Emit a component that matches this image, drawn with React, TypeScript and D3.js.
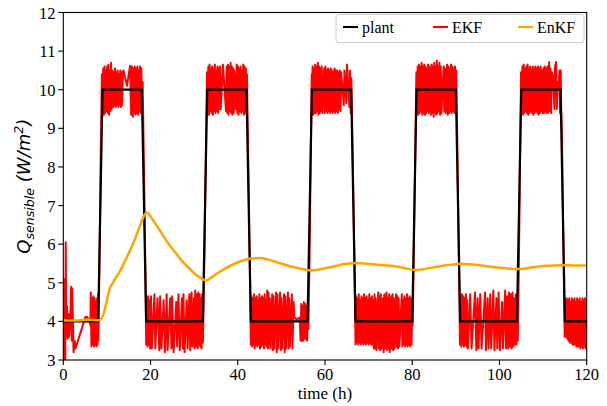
import React from 'react';
import * as d3 from 'd3';

type P = [number, number];

// ---------- data ----------
const xTicks = [0, 20, 40, 60, 80, 100, 120];
const yTicks = [3, 4, 5, 6, 7, 8, 9, 10, 11, 12];

const plantTime = [0, 8, 9, 18, 19, 32, 33, 42, 43, 56, 57, 66, 67, 80, 81, 90, 91, 104, 105, 114, 115, 120];
const plantQ = [4, 4, 10, 10, 4, 4, 10, 10, 4, 4, 10, 10, 4, 4, 10, 10, 4, 4, 10, 10, 4, 4];

const enkf: P[] = [
  [0, 4.02], [2, 4.02], [4, 4.03], [6, 4.04], [8, 4.03], [8.5, 4.04], [9, 4.12], [9.5, 4.3], [10, 4.55],
  [10.7, 4.86], [11.5, 5.02], [12, 5.12], [13, 5.3], [14, 5.53], [15, 5.77], [16, 6.02], [17, 6.3],
  [18, 6.6], [18.6, 6.76], [19.1, 6.82], [19.6, 6.78], [20, 6.72], [21, 6.55], [22, 6.38], [23, 6.2],
  [24, 6.03], [25, 5.88], [26, 5.74], [27, 5.6], [28, 5.47], [29, 5.36], [30, 5.25], [31, 5.16],
  [32, 5.09], [32.8, 5.06], [33.5, 5.1], [35, 5.22], [37, 5.36], [39, 5.48], [41, 5.57], [43, 5.63],
  [45, 5.64], [47, 5.6], [49, 5.53], [51, 5.46], [53, 5.4], [55, 5.35], [57, 5.32], [59, 5.35],
  [61, 5.4], [63, 5.45], [65, 5.49], [67, 5.51], [69, 5.5], [71, 5.48], [73, 5.46], [75, 5.44],
  [77, 5.41], [79, 5.36], [81, 5.33], [83, 5.36], [85, 5.4], [87, 5.44], [89, 5.47], [91, 5.49],
  [93, 5.48], [95, 5.46], [97, 5.43], [99, 5.4], [101, 5.38], [103, 5.36], [105, 5.36], [107, 5.39],
  [109, 5.42], [111, 5.44], [113, 5.45], [115, 5.46], [117, 5.45], [120, 5.45],
];

const ekfStart: P[] = [
  [0, 3.0], [0.1, 5.1], [0.2, 3.2], [0.35, 4.4], [0.45, 3.0], [0.55, 6.05], [0.7, 3.6], [0.85, 4.4],
  [1.0, 3.55], [1.15, 4.2], [1.3, 3.6], [1.55, 3.9], [1.8, 4.9], [1.95, 3.5], [2.05, 4.85], [2.35, 3.2],
  [2.6, 3.5], [2.8, 3.3], [3.5, 3.55], [4.2, 3.8], [5.0, 4.1], [5.4, 4.12], [5.9, 4.05], [6.2, 3.9],
  [6.3, 4.75], [6.45, 3.35], [6.6, 4.6], [6.75, 3.4], [6.9, 4.65], [7.05, 3.35], [7.2, 4.6], [7.35, 3.4],
  [7.5, 4.5], [7.6, 3.35], [7.75, 4.6], [7.85, 3.4], [7.95, 4.7], [8.05, 3.5], [8.35, 6.0], [8.6, 8.5],
];

const ekfCycle1: P[] = [
  [8.85, 10.4], [9.0, 9.4], [9.15, 10.55], [9.3, 9.35], [9.45, 10.6], [9.6, 9.4], [9.75, 10.5], [9.9, 9.45],
  [10.05, 10.6], [10.2, 9.4], [10.35, 10.65], [10.5, 9.35], [10.65, 10.5], [10.8, 9.45], [10.95, 10.7],
  [11.1, 9.5], [11.25, 10.5], [11.4, 9.55], [11.55, 10.45], [11.7, 9.6], [11.85, 10.55], [12.0, 9.55],
  [12.15, 10.45], [12.3, 9.6], [12.45, 10.5], [12.6, 9.55], [12.75, 10.4], [12.9, 9.6], [13.05, 10.5],
  [13.2, 9.55], [13.35, 10.45], [13.5, 9.6], [13.65, 10.4], [13.8, 10.5], [14.6, 10.1], [15.3, 10.62],
  [15.55, 9.35], [15.75, 10.6], [15.95, 9.3], [16.1, 10.55], [16.25, 9.4], [16.4, 10.6], [16.55, 9.35],
  [16.7, 10.55], [16.85, 9.4], [17.0, 10.6], [17.15, 9.35], [17.3, 10.5], [17.45, 9.45], [17.6, 10.6],
  [17.75, 9.4], [17.9, 10.55], [18.05, 9.4], [18.2, 10.2], [18.55, 7.5], [18.9, 4.7],
  [19.0, 3.4], [19.15, 4.6], [19.3, 3.35], [19.45, 4.65], [19.6, 3.4], [19.75, 4.55], [19.9, 3.3],
  [20.1, 4.65], [20.3, 3.3], [20.9, 4.7], [21.1, 3.3], [21.6, 4.6], [22.0, 3.25], [22.2, 4.65],
  [22.5, 3.3], [23.0, 4.55], [23.3, 3.2], [23.7, 4.7], [23.9, 3.25], [24.5, 4.6], [24.8, 3.3],
  [24.95, 4.65], [25.3, 3.2], [25.9, 4.5], [26.1, 3.35], [26.4, 4.7], [26.7, 3.25], [27.2, 4.6],
  [27.4, 3.3], [27.55, 4.7], [27.8, 3.2], [28.3, 4.55], [28.5, 3.3], [28.9, 4.7], [29.1, 3.25],
  [29.4, 4.75], [29.6, 3.35], [29.95, 4.6], [30.1, 3.3], [30.25, 4.8], [30.45, 3.35], [30.6, 4.7],
  [30.8, 3.3], [30.95, 4.75], [31.1, 3.4], [31.25, 4.7], [31.4, 3.35], [31.55, 4.6], [31.7, 3.3],
  [31.85, 4.7], [32.0, 3.45], [32.15, 4.3], [32.4, 6.0], [32.7, 8.5],
];

const ekfCycle2: P[] = [
  [32.95, 10.45], [33.1, 9.4], [33.25, 10.6], [33.4, 9.35], [33.55, 10.65], [33.7, 9.45], [33.85, 10.55],
  [34.0, 9.4], [34.15, 10.6], [34.3, 9.35], [34.45, 10.55], [34.6, 9.45], [34.75, 10.65], [34.9, 9.4],
  [35.05, 10.5], [35.2, 9.45], [35.35, 10.6], [35.5, 9.4], [35.65, 10.55], [35.8, 9.5], [35.95, 10.6],
  [36.1, 9.5], [36.6, 10.65], [37.3, 9.45], [37.45, 10.6], [37.6, 9.4], [37.75, 10.65], [37.9, 9.35],
  [38.05, 10.6], [38.2, 9.45], [38.35, 10.7], [38.5, 9.4], [38.65, 10.6], [38.8, 9.35], [38.95, 10.55],
  [39.1, 9.4], [39.2, 10.5], [39.6, 9.5], [39.75, 10.65], [39.9, 9.4], [40.05, 10.6], [40.2, 9.35],
  [40.35, 10.55], [40.5, 9.45], [40.65, 10.6], [40.8, 9.4], [40.95, 10.5], [41.1, 9.45], [41.25, 10.65],
  [41.4, 9.35], [41.55, 10.6], [41.7, 9.4], [41.85, 10.55], [42.0, 9.45], [42.1, 10.4], [42.5, 7.5],
  [42.85, 4.8],
  [43.0, 3.4], [43.15, 4.65], [43.3, 3.35], [43.45, 4.6], [43.6, 3.4], [43.75, 4.7], [43.9, 3.3],
  [44.05, 4.6], [44.2, 3.4], [44.35, 4.65], [44.5, 3.35], [44.65, 4.55], [44.8, 3.4], [44.95, 4.7],
  [45.1, 3.3], [45.25, 4.6], [45.4, 3.35], [45.55, 4.65], [45.7, 3.4], [45.85, 4.6], [46.0, 3.3],
  [46.15, 4.7], [46.3, 3.4], [46.45, 4.55], [46.6, 3.35], [46.75, 4.8], [46.9, 3.3], [47.05, 4.75],
  [47.2, 3.4], [47.35, 4.6], [47.5, 3.3], [47.9, 4.7], [48.05, 3.25], [48.2, 4.65], [48.35, 3.3],
  [48.8, 4.75], [48.95, 3.2], [49.1, 4.7], [49.25, 3.3], [49.7, 4.75], [49.85, 3.25], [50.0, 4.6],
  [50.15, 3.3], [50.6, 4.7], [50.75, 3.2], [50.9, 4.65], [51.05, 3.3], [51.5, 4.75], [51.65, 3.3],
  [51.8, 4.6], [51.95, 3.35], [52.4, 4.7], [52.55, 3.3], [52.8, 4.5], [53.0, 4.1], [53.5, 4.05],
  [54.2, 4.1], [54.4, 3.5], [54.55, 4.45], [54.7, 3.5], [54.85, 4.4], [55.0, 3.5], [55.15, 4.5],
  [55.3, 3.55], [55.45, 4.45], [55.6, 3.55], [55.75, 4.4], [55.9, 3.5], [56.05, 4.5], [56.2, 3.8],
  [56.5, 6.0], [56.75, 8.5],
];

const ekfCycle3: P[] = [
  [56.95, 10.4], [57.0, 9.4], [57.15, 10.6], [57.3, 9.35], [57.45, 10.55], [57.6, 9.4], [57.75, 10.65],
  [57.9, 9.4], [58.05, 10.6], [58.2, 9.45], [58.35, 10.7], [58.5, 9.35], [58.65, 10.6], [58.8, 9.4],
  [58.95, 10.55], [59.1, 9.45], [59.25, 10.6], [59.4, 9.4], [59.8, 10.55], [59.95, 9.4], [60.1, 10.6],
  [60.25, 9.45], [60.4, 10.5], [60.55, 9.4], [60.7, 10.55], [60.85, 9.45], [61.0, 10.5], [61.15, 9.4],
  [61.3, 10.55], [61.45, 9.45], [61.6, 10.5], [61.75, 9.4], [61.9, 10.45], [62.05, 9.45], [62.2, 10.55],
  [62.35, 9.4], [62.5, 10.5], [62.65, 9.45], [62.8, 10.5], [62.95, 9.4], [63.1, 10.45], [63.25, 9.5],
  [63.4, 10.5], [63.55, 9.45], [63.7, 10.45], [64.3, 9.6], [64.45, 10.5], [64.9, 9.65], [65.05, 10.65],
  [65.6, 9.55], [65.75, 10.5], [65.9, 9.4], [66.05, 10.3], [66.4, 8.0], [66.75, 5.5],
  [67.0, 3.4], [67.15, 4.65], [67.3, 3.45], [67.45, 4.6], [67.6, 3.4], [67.75, 4.7], [67.9, 3.45],
  [68.05, 4.55], [68.2, 3.4], [68.35, 4.65], [68.5, 3.45], [68.65, 4.6], [68.8, 3.4], [68.95, 4.7],
  [69.1, 3.45], [69.25, 4.6], [69.4, 3.4], [69.55, 4.65], [69.7, 3.45], [69.85, 4.55], [70.0, 3.4],
  [70.15, 4.7], [70.3, 3.45], [70.45, 4.6], [70.6, 3.4], [70.75, 4.65], [70.9, 3.4], [71.05, 4.55],
  [71.2, 3.3], [71.35, 4.7], [71.5, 3.3], [71.65, 4.6], [71.8, 3.25], [72.2, 4.75], [72.35, 3.3],
  [72.5, 4.65], [72.65, 3.25], [72.8, 4.7], [72.95, 3.3], [73.3, 4.6], [73.45, 3.2], [73.6, 4.7],
  [73.75, 3.3], [74.1, 4.75], [74.25, 3.25], [74.4, 4.6], [74.55, 3.3], [74.7, 4.7], [74.85, 3.2],
  [75.2, 4.65], [75.35, 3.3], [75.5, 4.7], [75.65, 3.25], [75.8, 4.6], [75.95, 3.3], [76.3, 4.7],
  [76.45, 3.35], [76.6, 4.65], [76.75, 3.3], [76.9, 4.6], [77.05, 3.35], [77.6, 4.7], [77.75, 3.35],
  [77.9, 4.55], [78.05, 3.4], [78.2, 4.65], [78.35, 3.35], [78.5, 4.6], [78.65, 3.4], [78.8, 4.7],
  [78.95, 3.35], [79.1, 4.6], [79.25, 3.4], [79.4, 4.65], [79.55, 3.35], [79.7, 4.6], [79.85, 3.4],
  [80.0, 4.6], [80.1, 3.9], [80.4, 6.0], [80.7, 8.5],
];

const ekfCycle4: P[] = [
  [80.95, 10.45], [81.1, 9.4], [81.25, 10.6], [81.4, 9.35], [81.55, 10.65], [81.7, 9.4], [81.85, 10.6],
  [82.0, 9.45], [82.15, 10.7], [82.3, 9.35], [82.45, 10.6], [82.6, 9.4], [82.75, 10.65], [82.9, 9.35],
  [83.05, 10.6], [83.2, 9.4], [83.35, 10.55], [83.5, 9.45], [83.65, 10.65], [83.8, 9.4], [83.95, 10.6],
  [84.3, 9.35], [84.45, 10.65], [84.6, 9.4], [84.75, 10.6], [84.9, 9.3], [85.05, 10.7], [85.2, 9.4],
  [85.35, 10.6], [85.5, 9.35], [85.65, 10.75], [85.8, 9.4], [85.95, 10.6], [86.1, 9.45], [86.25, 10.7],
  [86.4, 9.35], [86.55, 10.6], [86.7, 9.4], [87.2, 10.6], [87.35, 9.45], [87.5, 10.55], [87.65, 9.4],
  [88.0, 10.65], [88.15, 9.35], [88.3, 10.6], [88.45, 9.4], [88.6, 10.55], [88.75, 9.45], [88.9, 10.65],
  [89.05, 9.4], [89.2, 10.6], [89.35, 9.45], [89.5, 10.55], [89.65, 9.4], [89.8, 10.6], [89.95, 9.45],
  [90.1, 10.5], [90.35, 8.5], [90.7, 5.5],
  [90.95, 3.4], [91.1, 4.6], [91.25, 3.35], [91.4, 4.7], [91.55, 3.4], [91.7, 4.65], [91.85, 3.35],
  [92.0, 4.6], [92.15, 3.4], [92.3, 4.7], [92.45, 3.35], [92.6, 4.55], [92.75, 3.3], [93.3, 4.7],
  [93.6, 3.3], [94.4, 4.75], [94.7, 3.25], [95.0, 4.6], [95.2, 3.3], [95.6, 4.7], [95.9, 3.3],
  [96.7, 4.75], [96.9, 3.25], [97.3, 4.6], [97.5, 3.3], [97.9, 4.7], [98.1, 3.3], [98.6, 4.8],
  [98.85, 3.25], [99.3, 4.6], [99.5, 3.3], [99.8, 4.75], [100.1, 3.25], [100.6, 4.5], [100.8, 3.3],
  [101.3, 4.8], [101.5, 3.3], [101.8, 4.65], [102.0, 3.3], [102.2, 4.75], [102.4, 3.35], [102.6, 4.7],
  [102.8, 3.3], [103.0, 4.75], [103.2, 3.35], [103.4, 4.6], [103.55, 3.4], [103.75, 4.7], [103.9, 3.4],
  [104.05, 4.6], [104.2, 3.5], [104.3, 4.2], [104.5, 6.0], [104.75, 8.5],
];

const ekfCycle5: P[] = [
  [104.95, 10.45], [105.1, 9.4], [105.25, 10.6], [105.4, 9.35], [105.55, 10.65], [105.7, 9.4],
  [105.85, 10.55], [106.0, 9.45], [106.15, 10.6], [106.3, 9.4], [106.45, 10.65], [106.6, 9.35],
  [106.75, 10.55], [106.9, 9.4], [107.05, 10.6], [107.2, 9.45], [107.35, 10.5], [107.5, 9.4],
  [107.65, 10.6], [107.8, 9.35], [107.95, 10.55], [108.1, 9.4], [108.25, 10.6], [108.4, 9.45],
  [108.55, 10.55], [108.7, 9.4], [108.85, 10.6], [109.0, 9.35], [109.15, 10.55], [109.3, 9.4],
  [109.45, 10.6], [109.6, 9.45], [109.75, 10.5], [109.9, 9.4], [110.05, 10.55], [110.2, 9.4],
  [110.35, 10.6], [110.5, 9.45], [110.65, 10.55], [110.8, 9.4], [111.0, 10.6], [111.15, 9.4],
  [111.4, 10.72], [111.55, 9.45], [111.7, 10.55], [111.85, 9.4], [112.0, 10.45], [112.3, 10.35],
  [112.6, 9.5], [112.75, 10.6], [113.0, 10.72], [113.15, 9.5], [113.35, 10.2], [113.55, 10.0],
  [113.75, 10.5], [113.9, 9.4], [114.05, 10.5], [114.15, 9.5], [114.3, 9.0], [114.6, 6.5],
  [114.95, 3.6], [115.1, 4.55], [115.25, 3.6], [115.4, 4.6], [115.55, 3.55], [115.7, 4.55],
  [115.85, 3.5], [116.0, 4.6], [116.15, 3.45], [116.3, 4.5], [116.45, 3.45], [116.6, 4.6], [116.75, 3.4],
  [116.9, 4.55], [117.05, 3.4], [117.2, 4.6], [117.35, 3.4], [117.5, 4.5], [117.65, 3.35], [117.8, 4.6],
  [117.95, 3.35], [118.1, 4.55], [118.25, 3.35], [118.4, 4.6], [118.55, 3.3], [118.7, 4.5],
  [118.85, 3.35], [119.0, 4.6], [119.15, 3.3], [119.3, 4.55], [119.45, 3.35], [119.6, 4.6],
  [119.75, 3.3], [119.9, 4.5], [120.0, 3.4],
];

const legendLabels = ['plant', 'EKF', 'EnKF'];
const seriesColors = ['#000000', '#ff0000', '#ffa500'];

// ---------- chart ----------
const W = 607;
const H = 406;
const PL = 63.3, PR = 586.7, PT = 12.5, PB = 360;
const SERIF = '"Liberation Serif", "Times New Roman", Times, Tinos, "DejaVu Serif", "Noto Serif", serif';

export default function App() {
  const x = d3.scaleLinear().domain([0, 120]).range([PL, PR]);
  const y = d3.scaleLinear().domain([3, 12]).range([PB, PT]);
  const line = d3.line<P>().x(d => x(d[0])).y(d => y(d[1]));
  const smooth = d3.line<P>().x(d => x(d[0])).y(d => y(d[1])).curve(d3.curveMonotoneX);

  const plant: P[] = plantTime.map((t, i) => [t, plantQ[i]]);
  const ekf: P[] = [...ekfStart, ...ekfCycle1, ...ekfCycle2, ...ekfCycle3, ...ekfCycle4, ...ekfCycle5];

  const serifStyle = { fontFamily: SERIF };

  const legFont = 16;
  const handleLen = 15;
  const entryXs = [343, 433, 518];

  return (
    <svg width={W} height={H} style={{ position: 'absolute', left: 0, top: 0, background: '#fff' }}>
      <defs>
        <clipPath id="plotClip">
          <rect x={PL} y={PT} width={PR - PL} height={PB - PT} />
        </clipPath>
      </defs>
      <rect x={0} y={0} width={W} height={H} fill="#fff" />
      <g clipPath="url(#plotClip)">
        <path d={line(ekf) || ''} fill="none" stroke={seriesColors[1]} strokeWidth={2} strokeLinejoin="round" />
        <path d={line(plant) || ''} fill="none" stroke={seriesColors[0]} strokeWidth={2.2} />
        <path d={smooth(enkf) || ''} fill="none" stroke={seriesColors[2]} strokeWidth={2.5} />
      </g>
      <rect x={PL} y={PT} width={PR - PL} height={PB - PT} fill="none" stroke="#000" strokeWidth={1.1} />
      {xTicks.map(t => (
        <g key={'x' + t}>
          <line x1={x(t)} x2={x(t)} y1={PB} y2={PB + 5} stroke="#000" strokeWidth={1.1} />
          <text x={x(t)} y={380} textAnchor="middle" style={serifStyle} fontSize={16.5} fill="#000">{t}</text>
        </g>
      ))}
      {yTicks.map(t => (
        <g key={'y' + t}>
          <line x1={PL - 5} x2={PL} y1={y(t)} y2={y(t)} stroke="#000" strokeWidth={1.1} />
          <text x={55.5} y={y(t) + 6} textAnchor="end" style={serifStyle} fontSize={16.5} fill="#000">{t}</text>
        </g>
      ))}
      <text x={(PL + PR) / 2} y={399} textAnchor="middle" style={serifStyle} fontSize={17} fill="#000">time (h)</text>
      <text transform={`translate(29.5,${(PT + PB) / 2}) rotate(-90)`} textAnchor="middle"
        style={{ fontFamily: '"DejaVu Sans", sans-serif' }} fontStyle="italic" fontSize={18} fill="#000">
        <tspan>Q</tspan>
        <tspan fontSize={12.6} dy={4}>sensible</tspan>
        <tspan dy={-4}>{'\u00a0(W/m'}</tspan>
        <tspan fontSize={12.6} dy={-7}>2</tspan>
        <tspan dy={7}>)</tspan>
      </text>
      <rect x={336} y={14.5} width={248} height={28} rx={3} ry={3} fill="#fff" fillOpacity={0.8} stroke="#cccccc" strokeWidth={1} />
      {legendLabels.map((lab, i) => (
        <g key={lab}>
          <line x1={entryXs[i]} x2={entryXs[i] + handleLen} y1={27} y2={27} stroke={seriesColors[i]} strokeWidth={2.1} />
          <text x={entryXs[i] + handleLen + 4} y={32.5} style={serifStyle} fontSize={legFont} fill="#000">{lab}</text>
        </g>
      ))}
    </svg>
  );
}
